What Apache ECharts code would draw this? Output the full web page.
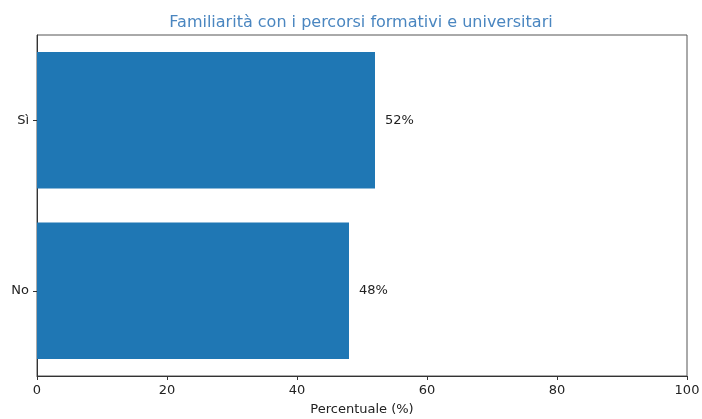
<!DOCTYPE html>
<html>
<head>
<meta charset="utf-8">
<script src="https://cdn.jsdelivr.net/npm/echarts@6/dist/echarts.min.js"></script>
<style>
  html, body { margin: 0; padding: 0; background: #fff; }
  #chart { width: 702px; height: 419px; }
</style>
</head>
<body>
<div id="chart"></div>
<script>
// Risposte alla domanda sulla familiarità (percentuali)
const categories = ['No', 'Sì'];
const percentages = [48, 52];
const xTicks = [0, 20, 40, 60, 80, 100];

const font = '"DejaVu Sans", sans-serif';
const chart = echarts.init(document.getElementById('chart'), null, { renderer: 'canvas' });

chart.setOption({
  animation: false,
  title: {
    text: 'Familiarità con i percorsi formativi e universitari',
    left: 356,
    textAlign: 'center',
    top: 10,
    textStyle: { fontFamily: font, fontSize: 16, fontWeight: 'normal', color: '#4a86c0' }
  },
  grid: {
    left: 37, right: 15, top: 35, bottom: 43,
    outerBoundsMode: 'none',
    containLabel: false,
    show: true, borderColor: '#555', borderWidth: 1, backgroundColor: 'transparent'
  },
  xAxis: {
    type: 'value',
    min: xTicks[0],
    max: xTicks[xTicks.length - 1],
    interval: 20,
    name: 'Percentuale (%)',
    nameLocation: 'middle',
    nameGap: 27,
    nameTextStyle: { fontFamily: font, fontSize: 13, color: '#222' },
    axisLine: { show: true, lineStyle: { color: '#333' } },
    axisTick: { show: true, length: 4, lineStyle: { color: '#333' } },
    axisLabel: { fontFamily: font, fontSize: 13, color: '#222', margin: 8 },
    splitLine: { show: false }
  },
  yAxis: {
    type: 'category',
    data: categories,
    axisLine: { show: true, lineStyle: { color: '#333' } },
    axisTick: { show: true, alignWithLabel: true, length: 4, lineStyle: { color: '#333' } },
    axisLabel: { fontFamily: font, fontSize: 13, color: '#222', margin: 8 }
  },
  series: [{
    type: 'bar',
    data: percentages,
    barWidth: '80%',
    itemStyle: { color: '#1f77b4' },
    label: {
      show: true,
      position: 'right',
      distance: 10,
      formatter: p => p.value + '%',
      fontFamily: font,
      fontSize: 13,
      color: '#222'
    }
  }]
});
</script>
</body>
</html>
